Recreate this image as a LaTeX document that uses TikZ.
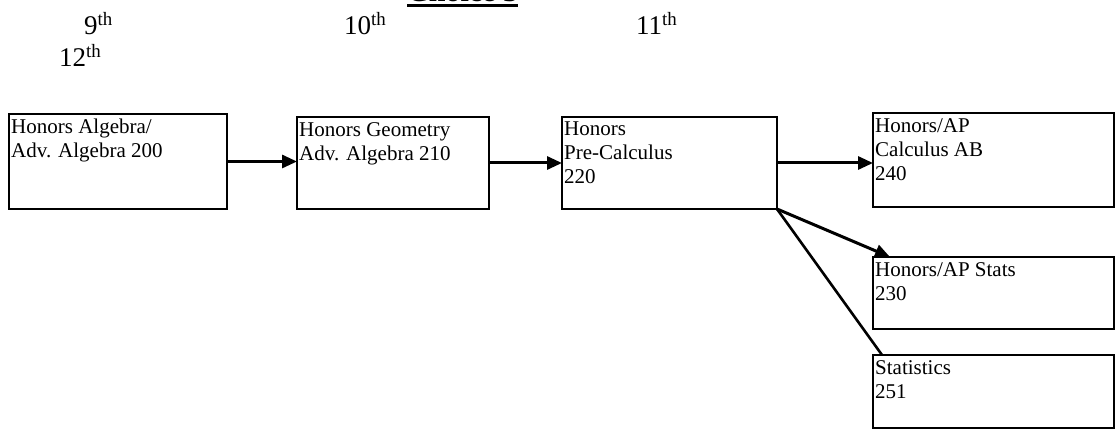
\documentclass[tikz,border=0pt]{standalone}
\usepackage{fontspec}
\setmainfont{Liberation Serif}
\usetikzlibrary{arrows.meta}

\newcommand{\grade}[1]{#1\textsuperscript{th}}

\tikzset{
	course/.style 2 args={draw, line width=2pt, minimum width=#1, minimum height=#2, anchor=north west, inner sep=0pt, outer sep=0pt},
	coursetext/.style={anchor=north west, align=left, inner xsep=2pt, inner ysep=5pt, font=\fontsize{21}{24}\selectfont},
	gradelabel/.style={anchor=base west, inner sep=0pt, font=\fontsize{27}{30}\selectfont},
	flow/.style={-{Triangle[length=15pt,width=13pt]}, line width=3pt},
	branch/.style={line width=2.6pt}
}

\begin{document}
\begin{tikzpicture}[x=1pt, y=-1pt]
	\useasboundingbox (0,0) rectangle (1118,430);
	
	\node[anchor=base west, inner sep=0pt, font=\fontsize{30}{32}\selectfont\bfseries] (choice) at (407,1.5) {Choice 3};
	\draw[line width=3.5pt] ([yshift=-3.9pt]choice.base west) -- ([yshift=-3.9pt]choice.base east);
	
	\node[gradelabel] (nine) at (84,35) {\grade{9}};
	\node[gradelabel] (twelve) at (59,67) {\grade{12}};
	\node[gradelabel] (ten) at (344,35) {\grade{10}};
	\node[gradelabel] (eleven) at (636,35) {\grade{11}};
	
	\node[course={218}{95}, label={[coursetext]north west:{Honors Algebra/\\Adv. Algebra 200}}] (alg) at (9,114) {};
	\node[course={192}{92}, label={[coursetext]north west:{Honors Geometry\\Adv. Algebra 210}}] (geo) at (297,117) {};
	\node[course={215}{92}, label={[coursetext]north west:{Honors\\Pre-Calculus\\220}}] (pre) at (562,117) {};
	\node[course={241}{94}, label={[coursetext]north west:{Honors/AP\\Calculus AB\\240}}] (calc) at (873,113) {};
	\node[course={241}{72}, label={[coursetext]north west:{Honors/AP Stats\\230}}] (apstat) at (873,257) {};
	\node[course={241}{73}, label={[coursetext]north west:{Statistics\\251}}] (stat) at (873,355) {};
	
	\draw[flow] (alg.east) -- (alg.east -| geo.west);
	\draw[flow] (geo.east) -- (geo.east -| pre.west);
	\draw[flow] (pre.east) -- (pre.east -| calc.west);
	\draw[flow] (pre.south east) -- ([xshift=17pt]apstat.north west);
	\draw[branch] (pre.south east) -- ([xshift=9pt]stat.north west);
\end{tikzpicture}
\end{document}
